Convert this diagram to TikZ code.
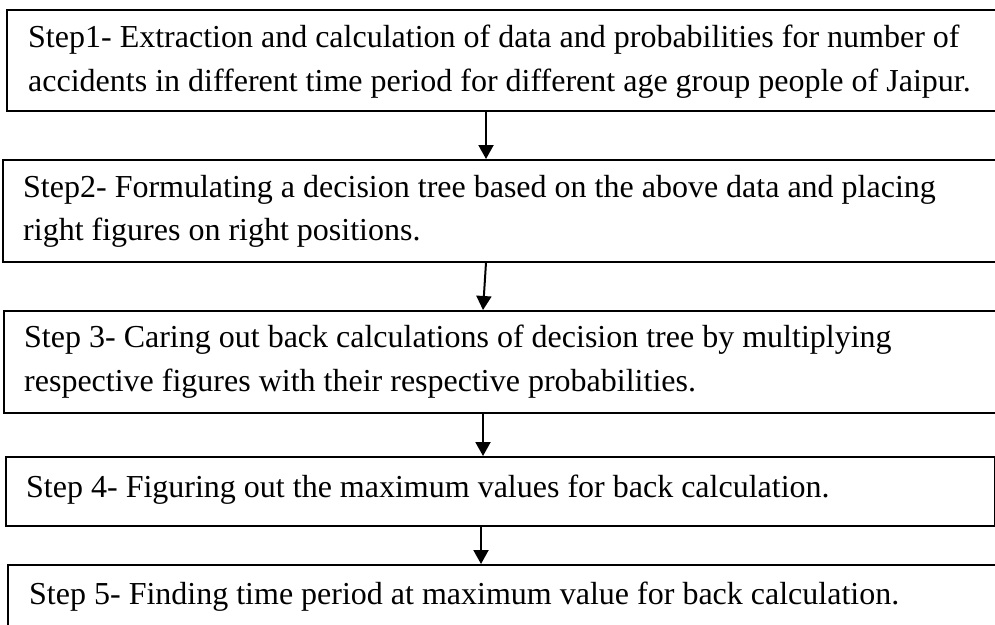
\documentclass[tikz,border=0pt]{standalone}
\usepackage{fontspec}
\setmainfont{Liberation Serif}
\usetikzlibrary{arrows.meta,calc}
\begin{document}
\begin{tikzpicture}[x=1pt,y=-1pt,
  stepbox/.style={draw=black, line width=1.6pt, rectangle, inner sep=0pt, anchor=north west},
  steptext/.style={anchor=base west, inner sep=0pt, font=\fontsize{32}{38}\selectfont},
  arr/.style={line width=2pt, -{Triangle[length=14pt,width=15pt]}}]
\useasboundingbox (0,0) rectangle (995,624);
\clip (0,0) rectangle (995,624);
\node[stepbox, minimum width=1010pt, minimum height=101pt] (b1) at (6,9) {};
\node[stepbox, minimum width=1010pt, minimum height=102pt] (b2) at (2,159) {};
\node[stepbox, minimum width=1010pt, minimum height=102pt] (b3) at (3,310) {};
\node[stepbox, minimum width=989pt, minimum height=69pt] (b4) at (5,456) {};
\node[stepbox, minimum width=1010pt, minimum height=80pt] (b5) at (7,564) {};
\node[steptext] (t1a) at (28,47) {Step1- Extraction and calculation of data and probabilities for number of};
\node[steptext] (t1b) at (28,91) {accidents in different time period for different age group people of Jaipur.};
\node[steptext] (t2a) at (23,197) {Step2- Formulating a decision tree based on the above data and placing};
\node[steptext] (t2b) at (23,240) {right figures on right positions.};
\node[steptext] (t3a) at (24,347) {Step 3- Caring out back calculations of decision tree by multiplying};
\node[steptext] (t3b) at (24,391) {respective figures with their respective probabilities.};
\node[steptext] (t4) at (26,497) {Step 4- Figuring out the maximum values for back calculation.};
\node[steptext] (t5) at (29,604) {Step 5- Finding time period at maximum value for back calculation.};
\draw[arr] (b1.south west) ++(480,0) coordinate (a1s) -- (a1s |- b2.north);
\draw[arr] (b2.south west) ++(484,0) coordinate (a2s) -- ($(a2s |- b3.north)+(-3,0)$);
\draw[arr] (b3.south west) ++(480,0) coordinate (a3s) -- (a3s |- b4.north);
\draw[arr] (b4.south west) ++(476,0) coordinate (a4s) -- (a4s |- b5.north);
\end{tikzpicture}
\end{document}
